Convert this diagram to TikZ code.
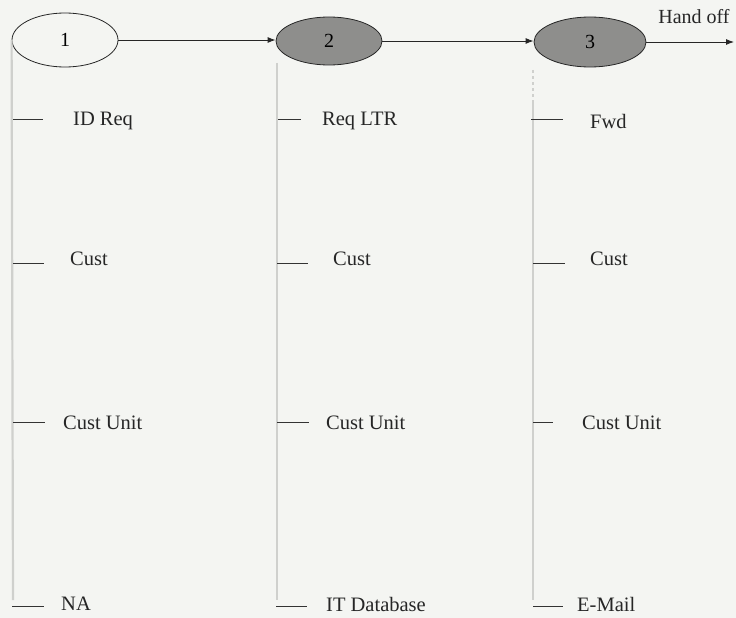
\documentclass[tikz,border=0pt]{standalone}
\usepackage{fontspec}
\setmainfont{Liberation Serif}
\usetikzlibrary{arrows.meta,shapes.geometric}
\definecolor{bg}{HTML}{F4F5F2}
\definecolor{fillg}{HTML}{8E8E8C}
\definecolor{vline}{HTML}{CFD0CD}
\tikzset{
  x=1pt,y=-1pt,
  state/.style={ellipse,draw=black!85,line width=0.8pt,inner sep=0pt,font=\fontsize{20}{22}\selectfont},
  shaded/.style={state,fill=fillg},
  flow/.style={draw=black!85,line width=0.9pt,-{Latex[length=8pt,width=6pt]}},
  lane/.style={draw=vline,line width=2.2pt},
  tick/.style={draw=black!80,line width=0.9pt},
  lbl/.style={anchor=west,inner sep=0pt,font=\fontsize{20.5}{23}\selectfont,text=black!85},
}
\begin{document}
\begin{tikzpicture}
\fill[bg] (0,0) rectangle (736,618);
\useasboundingbox (0,0) rectangle (736,618);
% states
\node[state,minimum width=106pt,minimum height=54pt] (s1) at (65,40) {1};
\node[shaded,minimum width=106pt,minimum height=48pt] (s2) at (329,41) {2};
\node[shaded,minimum width=112pt,minimum height=50pt] (s3) at (590,42) {3};
\coordinate (hend) at (734,42);
\node[inner sep=0pt,font=\fontsize{20}{22}\selectfont,text=black!85] (ho) at (694,17) {Hand off};
\draw[flow] (s1.east) -- (s1.east -| s2.west);
\draw[flow] (s2.east) -- (s2.east -| s3.west);
\draw[flow] (s3.east) -- (hend);
% lanes
\coordinate (l1b) at (13,600);
\coordinate (l2t) at (277,63);
\coordinate (l2b) at (277,600);
\coordinate (l3t) at (533,70);
\coordinate (l3m) at (533,100);
\coordinate (l3b) at (533,600);
\draw[lane] (s1.west) -- (l1b);
\draw[lane] (l2t) -- (l2b);
\draw[lane,dashed] (l3t) -- (l3m);
\draw[lane] (l3m) -- (l3b);
% column 1
\coordinate (a1) at (13,119);  \coordinate (a1e) at (43,119);
\coordinate (a2) at (13,263); \coordinate (a2e) at (44,263);
\coordinate (a3) at (13,422); \coordinate (a3e) at (45,422);
\coordinate (a4) at (12,606); \coordinate (a4e) at (44,606);
\draw[tick] (a1) -- (a1e); \node[lbl] (t1) at (73,121) {ID Req};
\draw[tick] (a2) -- (a2e); \node[lbl] (t2) at (70,259) {Cust};
\draw[tick] (a3) -- (a3e); \node[lbl] (t3) at (63,423) {Cust Unit};
\draw[tick] (a4) -- (a4e); \node[lbl] (t4) at (61,604) {NA};
% column 2
\coordinate (b1) at (278,119);  \coordinate (b1e) at (301,119);
\coordinate (b2) at (277,263); \coordinate (b2e) at (308,263);
\coordinate (b3) at (277,422); \coordinate (b3e) at (309,422);
\coordinate (b4) at (276,606); \coordinate (b4e) at (307,606);
\draw[tick] (b1) -- (b1e); \node[lbl] (u1) at (322,121) {Req LTR};
\draw[tick] (b2) -- (b2e); \node[lbl] (u2) at (333,259) {Cust};
\draw[tick] (b3) -- (b3e); \node[lbl] (u3) at (326,423) {Cust Unit};
\draw[tick] (b4) -- (b4e); \node[lbl] (u4) at (326,604) {IT Database};
% column 3
\coordinate (c1) at (531,119);  \coordinate (c1e) at (563,119);
\coordinate (c2) at (533,263); \coordinate (c2e) at (565,263);
\coordinate (c3) at (533,422); \coordinate (c3e) at (553,422);
\coordinate (c4) at (533,606); \coordinate (c4e) at (563,606);
\draw[tick] (c1) -- (c1e); \node[lbl] (v1) at (590,121) {Fwd};
\draw[tick] (c2) -- (c2e); \node[lbl] (v2) at (590,259) {Cust};
\draw[tick] (c3) -- (c3e); \node[lbl] (v3) at (582,423) {Cust Unit};
\draw[tick] (c4) -- (c4e); \node[lbl] (v4) at (577,604) {E-Mail};
\end{tikzpicture}
\end{document}
